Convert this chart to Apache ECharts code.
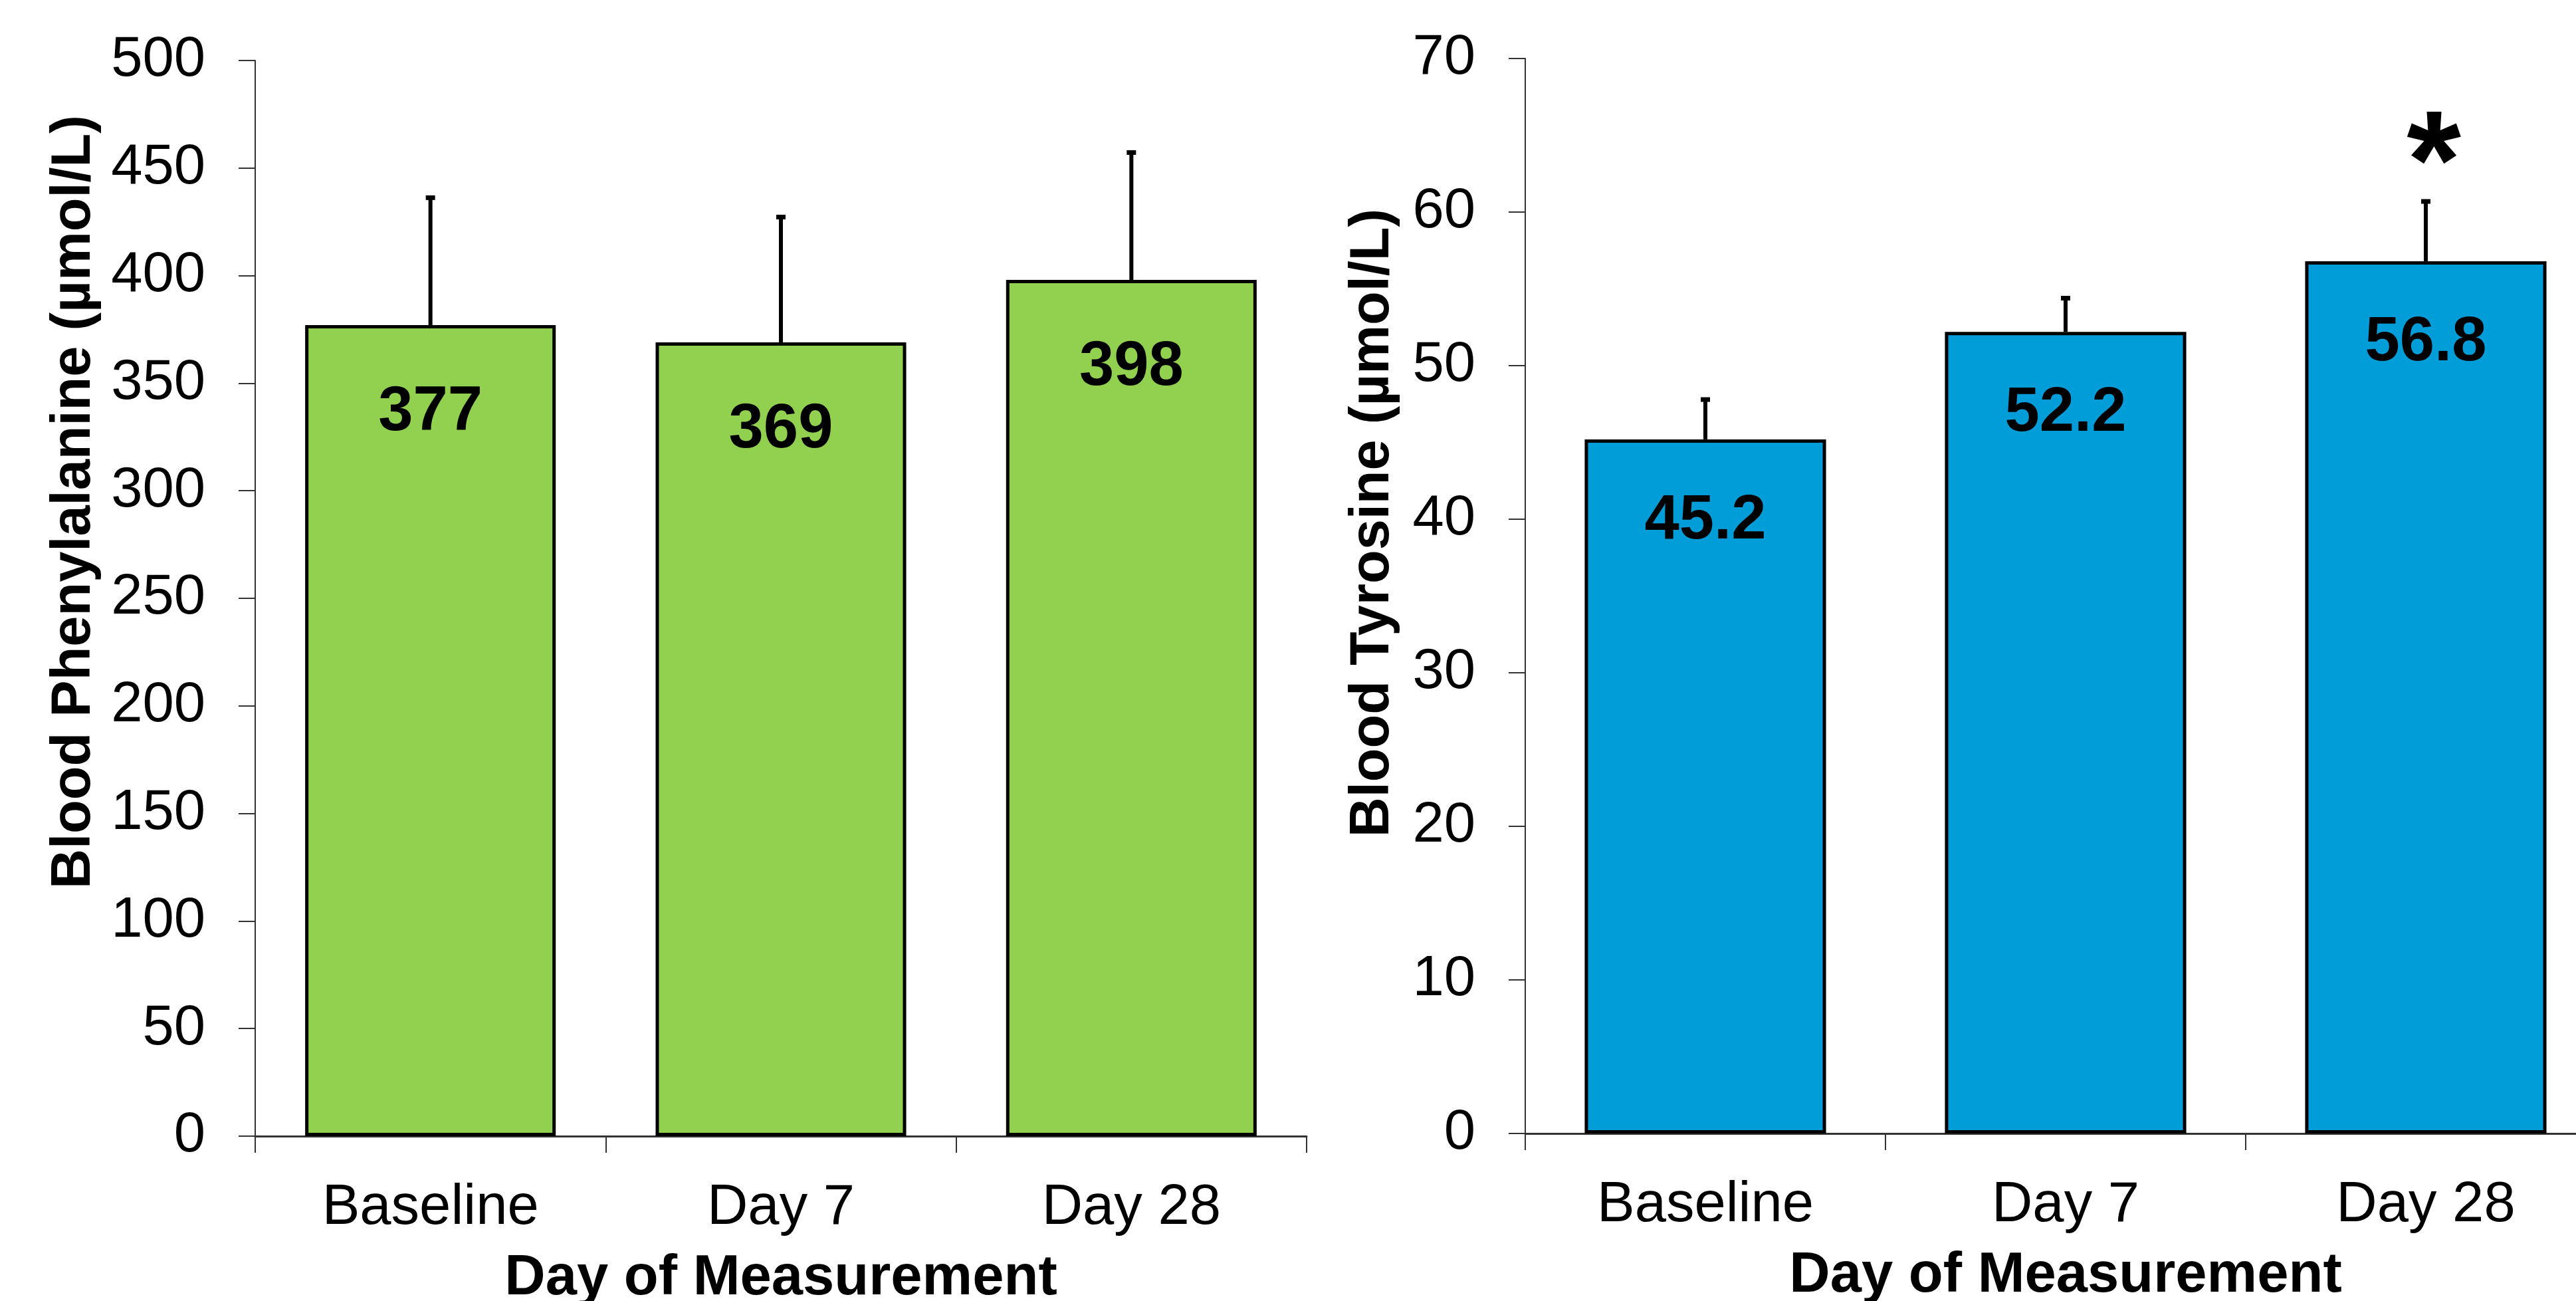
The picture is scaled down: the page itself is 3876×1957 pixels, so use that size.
<!DOCTYPE html>
<html>
<head>
<meta charset="utf-8">
<script src="https://cdn.jsdelivr.net/npm/echarts@6/dist/echarts.min.js"></script>
<style>
html,body{margin:0;padding:0;background:#fff;}
#chart{width:3876px;height:1957px;}
</style>
</head>
<body>
<div id="chart"></div>
<script>
// ---- data ----
const categories = ['Baseline', 'Day 7', 'Day 28'];
const pheValues = [377, 369, 398];
const pheErrors = [60, 59, 60];
const tyrValues = [45.2, 52.2, 56.8];
const tyrErrors = [2.7, 2.3, 4.0];
const tyrSignificant = [false, false, true];
const pheAxis = { min: 0, max: 500, interval: 50 };
const tyrAxis = { min: 0, max: 70, interval: 10 };
const pheName = 'Blood Phenylalanine (µmol/L)';
const tyrName = 'Blood Tyrosine (µmol/L)';
const xName = 'Day of Measurement';

const FONT = 'Liberation Sans, Arial, sans-serif';
const chart = echarts.init(document.getElementById('chart'));

function errorSeries(idx, values, errors, sig) {
  return {
    type: 'custom',
    xAxisIndex: idx, yAxisIndex: idx,
    z: 1,
    data: values.map((v, i) => [i, v, errors[i]]),
    renderItem: function (params, api) {
      const i = api.value(0), v = api.value(1), e = api.value(2);
      const base = api.coord([i, v]);
      const top = api.coord([i, v + e]);
      const children = [
        { type: 'line', shape: { x1: base[0], y1: base[1], x2: top[0], y2: top[1] + 2 },
          style: { stroke: '#000', lineWidth: 6 } },
        { type: 'rect', shape: { x: top[0] - 7, y: top[1] - 1, width: 14, height: 7 },
          style: { fill: '#000' } }
      ];
      if (sig && sig[params.dataIndex]) {
        children.push({ type: 'text', x: top[0] + 12, y: top[1] - 46,
          style: { text: '*', fill: '#000', font: 'bold 210px ' + FONT,
                   align: 'center', verticalAlign: 'middle' } });
      }
      return { type: 'group', children: children };
    }
  };
}

function xAxisCfg(gridIndex) {
  return {
    type: 'category', gridIndex: gridIndex, data: categories,
    name: xName, nameLocation: 'middle', nameGap: 172,
    nameTextStyle: { fontFamily: FONT, fontWeight: 'bold', fontSize: 85, color: '#000' },
    axisLine: { lineStyle: { color: '#333', width: 3 } },
    axisTick: { show: true, length: 25, lineStyle: { color: '#333', width: 2 } },
    axisLabel: { fontFamily: FONT, fontSize: 85, color: '#000', margin: 66 }
  };
}
function yAxisCfg(gridIndex, ax, name, gap, nameSize, shift) {
  return {
    type: 'value', gridIndex: gridIndex, min: ax.min, max: ax.max, interval: ax.interval,
    name: name, nameLocation: 'middle', nameGap: gap, nameRotate: 90,
    nameTextStyle: { fontFamily: FONT, fontWeight: 'bold', fontSize: nameSize, color: '#000',
                     padding: [0, 0, 0, shift] },
    splitLine: { show: false },
    axisLine: { show: true, lineStyle: { color: '#333', width: 2 } },
    axisTick: { show: true, length: 25, lineStyle: { color: '#333', width: 2 } },
    axisLabel: { fontFamily: FONT, fontSize: 85, color: '#000', margin: 75 }
  };
}

chart.setOption({
  animation: false,
  backgroundColor: '#fff',
  grid: [
    { left: 384, top: 91, width: 1582, height: 1618, outerBoundsMode: 'none', containLabel: false },
    { left: 2295, top: 88, width: 1626, height: 1617, outerBoundsMode: 'none', containLabel: false }
  ],
  xAxis: [xAxisCfg(0), xAxisCfg(1)],
  yAxis: [yAxisCfg(0, pheAxis, pheName, 230, 83, 290), yAxisCfg(1, tyrAxis, tyrName, 187, 83, 220)],
  series: [
    {
      type: 'bar', xAxisIndex: 0, yAxisIndex: 0, data: pheValues,
      barCategoryGap: '28.5%', z: 2,
      itemStyle: { color: '#92D050', borderColor: '#000', borderWidth: 5 },
      label: { show: true, position: 'insideTop', distance: 85,
               fontFamily: FONT, fontWeight: 'bold', fontSize: 94, color: '#000',
               formatter: p => String(p.value) }
    },
    errorSeries(0, pheValues, pheErrors, null),
    {
      type: 'bar', xAxisIndex: 1, yAxisIndex: 1, data: tyrValues,
      barCategoryGap: '33%', z: 2,
      itemStyle: { color: '#009DD9', borderColor: '#000', borderWidth: 5 },
      label: { show: true, position: 'insideTop', distance: 76,
               fontFamily: FONT, fontWeight: 'bold', fontSize: 94, color: '#000',
               formatter: p => p.value.toFixed(1) }
    },
    errorSeries(1, tyrValues, tyrErrors, tyrSignificant)
  ]
});
</script>
</body>
</html>
